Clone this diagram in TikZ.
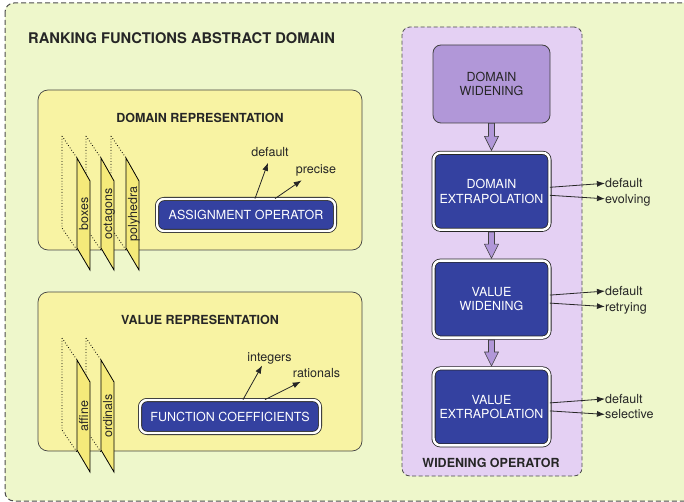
\documentclass[tikz,border=0pt]{standalone}
\usepackage{fontspec}
\setmainfont{TeX Gyre Heros}
\usepackage{xcolor}
\usetikzlibrary{positioning, arrows.meta}

\definecolor{bggreen}{RGB}{238,247,203}
\definecolor{panelyellow}{RGB}{248,243,163}
\definecolor{planeyellow}{RGB}{245,234,122}
\definecolor{opblue}{RGB}{52,65,160}
\definecolor{wdpanel}{RGB}{228,208,243}
\definecolor{wdbox}{RGB}{177,151,216}
\definecolor{framegray}{RGB}{68,68,68}

\newcommand{\txt}{\fontsize{12.5}{14.5}\selectfont}

\tikzset{
  panel/.style={draw=framegray, line width=0.7pt, fill=panelyellow, rounded corners=10pt, minimum width=324pt},
  opbox/.style={draw=black!85, double=white, double distance=2.4pt, line width=0.8pt, fill=opblue,
                text=white, rounded corners=7pt, inner sep=0pt, align=center, font=\txt},
  head/.style={font=\bfseries\txt, text=black!85, inner sep=0pt},
  lbl/.style={font=\txt, text=black!85, inner sep=0pt, text height=9pt, text depth=0pt},
  arr/.style={-{Latex[length=8pt,width=6pt]}, line width=0.8pt, black!85},
  flow/.style={draw=black!75, line width=0.6pt, fill=wdbox},
  plane/.style={draw=black, line width=0.8pt, fill=planeyellow},
  back/.style={dotted, line width=0.8pt}
}

\begin{document}
\begin{tikzpicture}[x=1pt, y=-1pt]
  \useasboundingbox (0,0) rectangle (684,502);
  \draw[fill=bggreen, draw=black!70, line width=1pt, dash pattern=on 5pt off 3pt, rounded corners=9pt]
    (5,3) rectangle (720,501);
  \node[head, anchor=west, font=\bfseries\fontsize{14.7}{17}\selectfont] (title) at (28,38.5)
    {RANKING FUNCTIONS ABSTRACT DOMAIN};

  % representations
  \node[panel, minimum height=160pt] (domrep) at (200,170) {};
  \node[panel, minimum height=159pt] (valrep) at (200,371.5) {};
  \node[head] (domrep-t) at (200,117.5) {DOMAIN REPRESENTATION};
  \node[head] (valrep-t) at (200,319.5) {VALUE REPRESENTATION};

  \foreach \x in {77,101,126}
    \draw[back] (\x-15,136) -- (\x,158) (\x-15,136) -- (\x-15,228) -- (\x,250);
  \foreach \x/\name in {77/boxes, 101/octagons, 126/polyhedra} {
    \draw[plane] (\x,158) -- (\x+13,181) -- (\x+13,270) -- (\x,248) -- cycle;
    \node[lbl, rotate=90] (\name) at (\x+6.5,214) {\name};
  }
  \foreach \x in {77,101}
    \draw[back] (\x-15,338) -- (\x,360) (\x-15,338) -- (\x-15,430) -- (\x,452);
  \foreach \x/\name in {77/affine, 101/ordinals} {
    \draw[plane] (\x,360) -- (\x+13,382) -- (\x+13,472) -- (\x,450) -- cycle;
    \node[lbl, rotate=90] (\name) at (\x+6.5,416) {\name};
  }

  \node[opbox, minimum width=178pt, minimum height=32pt] (asg) at (246,215) {ASSIGNMENT OPERATOR};
  \node[lbl] (asg-a) at (270,152.5) {default};
  \node[lbl] (asg-b) at (316,169.5) {precise};
  \draw[arr, shorten >=6pt] ([xshift=9pt]asg.north) -- (asg-a.south);
  \draw[arr] ([xshift=29pt]asg.north) -- ([xshift=6pt,yshift=-6pt]asg-b.south west);

  \node[opbox, minimum width=180pt, minimum height=33pt] (coef) at (230,416.5) {FUNCTION COEFFICIENTS};
  \node[lbl] (coef-a) at (269.5,356.5) {integers};
  \node[lbl] (coef-b) at (316.5,372.5) {rationals};
  \draw[arr, shorten >=5pt] ([xshift=13pt]coef.north) -- ([xshift=-5pt]coef-a.south);
  \draw[arr] ([xshift=35pt]coef.north) -- ([xshift=8pt,yshift=-4.5pt]coef-b.south west);

  % widening
  \node[draw=black!70, line width=0.8pt, dash pattern=on 4pt off 2.5pt, fill=wdpanel, rounded corners=8pt,
        minimum width=180pt, minimum height=449pt] (wop) at (492,251.5) {};
  \node[head] (wop-t) at (491,463) {WIDENING OPERATOR};
  \node[draw=black!75, line width=0.8pt, fill=wdbox, rounded corners=8pt, minimum width=117pt,
        minimum height=78pt, align=center, font=\txt, text=black!85] (dw) at (491.5,84) {DOMAIN\\WIDENING};
  \node[opbox, minimum width=116pt, minimum height=77pt, below=29pt of dw] (dx) {DOMAIN\\EXTRAPOLATION};
  \node[opbox, minimum width=116pt, minimum height=77pt, below=30pt of dx] (vw) {VALUE\\WIDENING};
  \node[opbox, minimum width=116pt, minimum height=77pt, below=30pt of vw] (vx) {VALUE\\EXTRAPOLATION};

  \foreach \a/\s/\l in {dw/0/27, dx/2/26, vw/2/26}
    \draw[flow] ([yshift=-\s pt]\a.south) ++(-3,0) -- ++(0,\l-14) -- ++(-4,0) -- ++(7,14)
      -- ++(7,-14) -- ++(-4,0) -- ++(0,-\l+14) -- cycle;

  \foreach \b/\p/\q in {dx/default/evolving, vw/default/retrying, vx/default/selective} {
    \node[lbl, anchor=west] (\b-a) at ([xshift=55pt,yshift=8pt]\b.east) {\p};
    \node[lbl, anchor=west] (\b-b) at ([xshift=55pt,yshift=-7.5pt]\b.east) {\q};
    \draw[arr] ([yshift=4pt]\b.east) -- (\b-a.west);
    \draw[arr] ([yshift=-4pt]\b.east) -- (\b-b.west);
  }
\end{tikzpicture}
\end{document}
